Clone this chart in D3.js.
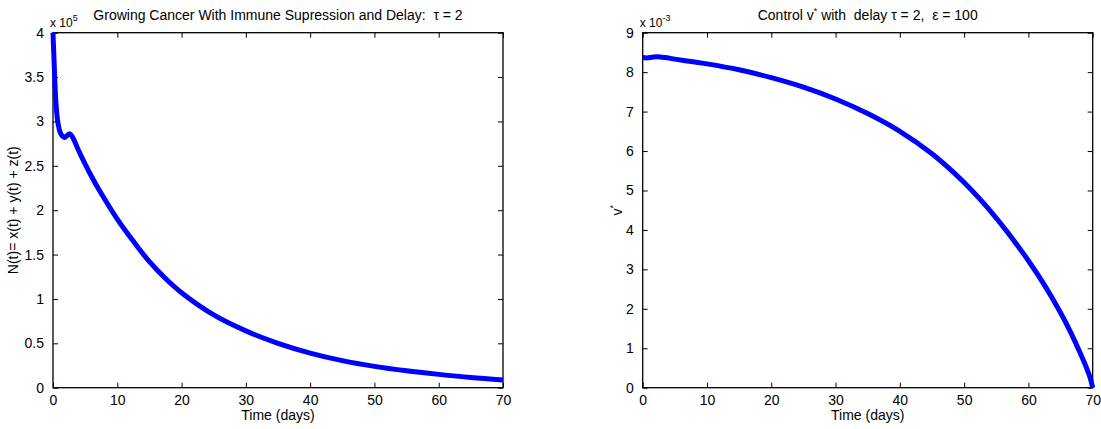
<!DOCTYPE html>
<meta charset="utf-8">
<script src="https://d3js.org/d3.v7.min.js"></script>
<style>
  body { margin: 0; background: #fff; }
  text { font-family: "Liberation Sans", Arial, Helvetica, sans-serif; fill: #000; white-space: pre; }
  .tick line { stroke: #000; }
</style>
<div id="my_dataviz"></div>
<script>

// ---- data ----
// left panel: total population N(t), in units of 1e5
var timeN = [0, 0.1, 0.2, 0.35, 0.55, 0.8, 1.1, 1.45, 1.8, 2.2, 2.5, 2.8, 3.2, 4, 5, 6, 7, 8.5, 10, 12.5, 15, 17.5, 20, 25, 30, 35, 40, 45, 50, 55, 60, 65, 70];
var valuesN = [4.0, 3.8, 3.62, 3.35, 3.12, 2.97, 2.88, 2.835, 2.82, 2.84, 2.86, 2.85, 2.80, 2.67, 2.52, 2.38, 2.25, 2.07, 1.90, 1.65, 1.42, 1.23, 1.07, 0.82, 0.64, 0.50, 0.39, 0.305, 0.24, 0.19, 0.15, 0.115, 0.088];

// right panel: control v*, in units of 1e-3
var timeV = [0, 0.7, 1.5, 2.3, 3.5, 5, 7.5, 10, 15, 20, 25, 30, 35, 40, 45, 50, 55, 60, 62.5, 65, 66.5, 68, 69, 69.6, 70];
var valuesV = [8.37, 8.36, 8.38, 8.39, 8.37, 8.33, 8.27, 8.21, 8.06, 7.86, 7.62, 7.32, 6.95, 6.50, 5.93, 5.20, 4.30, 3.22, 2.60, 1.90, 1.43, 0.90, 0.52, 0.25, 0];

var xTicks = [0, 10, 20, 30, 40, 50, 60, 70];
var yTicksN = [0, 0.5, 1, 1.5, 2, 2.5, 3, 3.5, 4];
var yTicksV = [0, 1, 2, 3, 4, 5, 6, 7, 8, 9];

var svg = d3.select("#my_dataviz")
  .append("svg")
    .attr("width", 1101)
    .attr("height", 429);

var fontSize = 14;

function drawPanel(p) {
  var g = svg.append("g")
    .attr("transform", "translate(" + p.left + "," + p.top + ")");

  var x = d3.scaleLinear().domain([0, 70]).range([0, p.width]);
  var y = d3.scaleLinear().domain(p.yDomain).range([p.height, 0]);

  // axes with inward ticks on all four sides
  var bottom = g.append("g")
    .attr("transform", "translate(0," + p.height + ")")
    .call(d3.axisBottom(x).tickValues(xTicks).tickSize(-5).tickPadding(12.5).tickFormat(d3.format("d")));
  var top = g.append("g")
    .call(d3.axisTop(x).tickValues(xTicks).tickSize(-5).tickFormat(""));
  var left = g.append("g")
    .call(d3.axisLeft(y).tickValues(p.yTicks).tickSize(-5).tickPadding(9).tickFormat(function(d) { return String(d); }));
  var right = g.append("g")
    .attr("transform", "translate(" + p.width + ",0)")
    .call(d3.axisRight(y).tickValues(p.yTicks).tickSize(-5).tickFormat(""));

  [bottom, top, left, right].forEach(function(a) {
    a.select(".domain").remove();
    a.selectAll("text").style("font-size", fontSize + "px").attr("fill", "#000");
  });
  bottom.selectAll(".tick text").attr("dy", "0.35em");

  g.append("rect")
    .attr("width", p.width)
    .attr("height", p.height)
    .attr("fill", "none")
    .attr("stroke", "#000")
    .attr("stroke-width", 1.3);

  // curve
  var line = d3.line()
    .x(function(d, i) { return x(p.times[i]); })
    .y(function(d) { return y(d); })
    .curve(d3.curveCatmullRom.alpha(0.5));

  g.append("path")
    .datum(p.values)
    .attr("d", line)
    .attr("fill", "none")
    .attr("stroke", "#0000ff")
    .attr("stroke-width", 5)
    .attr("stroke-linejoin", "round");

  // title
  var t = g.append("text")
    .attr("x", p.width / 2)
    .attr("y", -13)
    .attr("text-anchor", "middle")
    .style("font-size", fontSize + "px");
  p.title(t);

  // exponent
  var e = g.append("text")
    .attr("x", -3)
    .attr("y", -6)
    .style("font-size", "12px")
    .text("x 10");
  e.append("tspan").attr("dy", -6).style("font-size", "9px").text(p.exponent);

  // x label
  g.append("text")
    .attr("x", p.width / 2)
    .attr("y", p.height + 32.5)
    .attr("text-anchor", "middle")
    .style("font-size", fontSize + "px")
    .text("Time (days)");

  // y label
  var yl = g.append("text")
    .attr("transform", "translate(" + p.yLabelX + "," + (p.height / 2) + ") rotate(-90)")
    .attr("text-anchor", "middle")
    .style("font-size", fontSize + "px");
  p.yLabel(yl);
}

drawPanel({
  left: 53, top: 32.7, width: 450, height: 355,
  yDomain: [0, 4], yTicks: yTicksN,
  times: timeN, values: valuesN,
  exponent: "5",
  yLabelX: -35,
  title: function(t) { t.text("Growing Cancer With Immune Supression and Delay:  \u03c4 = 2"); },
  yLabel: function(t) { t.text("N(t)= x(t) + y(t) + z(t)"); }
});

drawPanel({
  left: 642.7, top: 32.7, width: 450, height: 355,
  yDomain: [0, 9], yTicks: yTicksV,
  times: timeV, values: valuesV,
  exponent: "-3",
  yLabelX: -21,
  title: function(t) {
    t.append("tspan").text("Control v");
    t.append("tspan").attr("dy", -6).style("font-size", "9px").text("*");
    t.append("tspan").attr("dy", 6).text(" with  delay \u03c4 = 2,  \u03b5 = 100");
  },
  yLabel: function(t) {
    t.append("tspan").text("v");
    t.append("tspan").attr("dy", -6).style("font-size", "9px").text("*");
  }
});

</script>
